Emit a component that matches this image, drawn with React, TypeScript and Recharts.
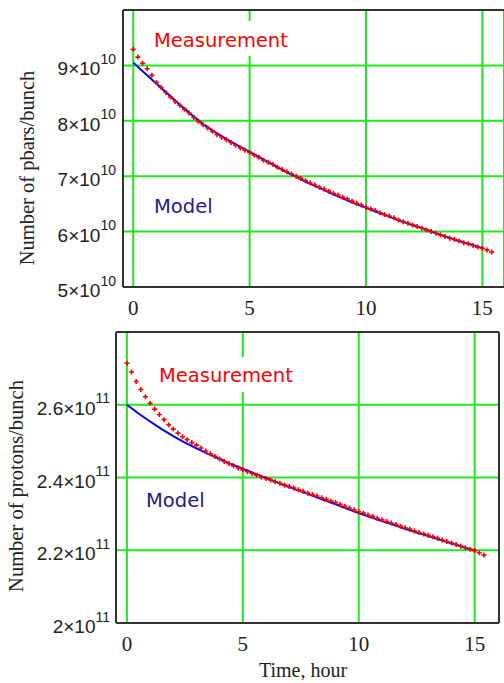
import React from 'react'
import {
  ComposedChart, Line, Scatter, XAxis, YAxis, CartesianGrid, ReferenceLine, Customized
} from 'recharts'

// hours of the measurement samples (one every 0.2 h)
const measTimes = [
  0, 0.2, 0.4, 0.6, 0.8, 1, 1.2, 1.4, 1.6, 1.8, 2, 2.2, 2.4, 2.6, 2.8, 3, 3.2, 3.4, 3.6, 3.8,
  4, 4.2, 4.4, 4.6, 4.8, 5, 5.2, 5.4, 5.6, 5.8, 6, 6.2, 6.4, 6.6, 6.8, 7, 7.2, 7.4, 7.6, 7.8,
  8, 8.2, 8.4, 8.6, 8.8, 9, 9.2, 9.4, 9.6, 9.8, 10, 10.2, 10.4, 10.6, 10.8, 11, 11.2, 11.4, 11.6, 11.8,
  12, 12.2, 12.4, 12.6, 12.8, 13, 13.2, 13.4, 13.6, 13.8, 14, 14.2, 14.4, 14.6, 14.8, 15, 15.2, 15.4,
]
// model evaluated every 0.5 h
const modelTimes = [
  0, 0.5, 1, 1.5, 2, 2.5, 3, 3.5, 4, 4.5, 5, 5.5, 6, 6.5, 7, 7.5, 8, 8.5, 9, 9.5,
  10, 10.5, 11, 11.5, 12, 12.5, 13, 13.5, 14, 14.5, 15,
]

// pbars per bunch, x1e10
const pbarMeasured = [
  9.29, 9.15, 9.04, 8.94, 8.82, 8.69, 8.60, 8.51, 8.43, 8.35, 8.28, 8.21, 8.14, 8.06, 7.99, 7.93, 7.87, 7.81, 7.75, 7.70,
  7.66, 7.61, 7.56, 7.51, 7.47, 7.43, 7.38, 7.34, 7.29, 7.25, 7.21, 7.16, 7.12, 7.08, 7.04, 7.00, 6.96, 6.92, 6.88, 6.84,
  6.80, 6.77, 6.73, 6.69, 6.66, 6.62, 6.59, 6.55, 6.51, 6.48, 6.44, 6.41, 6.38, 6.34, 6.31, 6.28, 6.25, 6.21, 6.18, 6.15,
  6.12, 6.09, 6.06, 6.03, 6.00, 5.97, 5.94, 5.91, 5.88, 5.86, 5.83, 5.80, 5.78, 5.75, 5.72, 5.70, 5.67, 5.63,
]
const pbarModel = [
  9.05, 8.86, 8.67, 8.48, 8.29, 8.11, 7.94, 7.80, 7.67, 7.55, 7.44, 7.32, 7.21, 7.09, 6.99, 6.88,
  6.79, 6.69, 6.60, 6.51, 6.43, 6.35, 6.27, 6.19, 6.12, 6.05, 5.97, 5.90, 5.83, 5.77, 5.70,
]

// protons per bunch, x1e11
const protonMeasured = [
  2.714, 2.690, 2.664, 2.642, 2.622, 2.604, 2.588, 2.573, 2.559, 2.545, 2.533, 2.522, 2.512, 2.504, 2.496, 2.489, 2.481, 2.473, 2.465, 2.458,
  2.451, 2.444, 2.438, 2.432, 2.426, 2.421, 2.416, 2.411, 2.406, 2.401, 2.397, 2.393, 2.388, 2.384, 2.379, 2.375, 2.371, 2.366, 2.362, 2.357,
  2.353, 2.349, 2.344, 2.340, 2.335, 2.331, 2.326, 2.321, 2.316, 2.311, 2.306, 2.302, 2.297, 2.293, 2.288, 2.284, 2.279, 2.275, 2.271, 2.266,
  2.262, 2.258, 2.253, 2.249, 2.245, 2.241, 2.237, 2.233, 2.228, 2.224, 2.220, 2.216, 2.211, 2.207, 2.203, 2.199, 2.193, 2.187,
]
const protonModel = [
  2.600, 2.576, 2.554, 2.533, 2.514, 2.496, 2.480, 2.465, 2.451, 2.437, 2.424, 2.411, 2.399, 2.386, 2.374, 2.362,
  2.350, 2.338, 2.326, 2.314, 2.302, 2.291, 2.280, 2.270, 2.259, 2.249, 2.239, 2.229, 2.219, 2.209, 2.199,
]

const xTicks = [0, 5, 10, 15]
const pbarTicks = [5, 6, 7, 8, 9]
const protonTicks = [2, 2.2, 2.4, 2.6]

const GRID = '#1ee81e'
const FRAME = '#333'
const SERIF = '"Liberation Serif", "Times New Roman", serif'
const SANS = '"DejaVu Sans", Verdana, sans-serif'

const Cross = ({ cx, cy }: any) => (
  <path d={`M${cx - 2.5},${cy}h5M${cx},${cy - 2.5}v5`} stroke="#ff0000" strokeWidth={1.6} />
)

const makeYTick = (exp: string, gap: number) => ({ x, y, payload }: any) => (
  <text x={x - gap} y={y + 10} textAnchor="end" fontFamily='"Liberation Sans", Arial, sans-serif' fontSize={19} fill="#222">
    <tspan>{String(payload.value)}×10</tspan>
    <tspan fontSize={14} dy={-11.5}>{exp}</tspan>
  </text>
)

const XTick = ({ x, y, payload }: any) => (
  <text x={x} y={y + 26} textAnchor="middle" fontFamily={SERIF} fontSize={21} fill="#222">
    {payload.value}
  </text>
)

interface PanelProps {
  meas: number[]
  model: number[]
  yDomain: [number, number]
  yTicks: number[]
  exp: string
  xDomain: [number, number]
  width: number
  height: number
  margin: { top: number; right: number; bottom: number; left: number }
  yAxisWidth: number
  xAxisHeight: number
  tickGap: number
  rightBorder?: boolean
  labels: { mx: number; my: number; dx: number; dy: number; box: number[] }
  yTitle: string
  yTitleAt: [number, number]
  xTitle?: string
}

function Panel(p: PanelProps) {
  const measRows = measTimes.map((t, i) => ({ t, v: p.meas[i] }))
  const modelRows = modelTimes.map((t, i) => ({ t, v: p.model[i] }))
  const L = p.labels
  return (
    <ComposedChart width={p.width} height={p.height} margin={p.margin}>
      <CartesianGrid stroke={GRID} strokeWidth={2} strokeOpacity={1} />
      <XAxis
        type="number" dataKey="t" domain={p.xDomain} ticks={xTicks} allowDataOverflow
        height={p.xAxisHeight} tickLine={false} tickSize={0} tick={<XTick />}
        axisLine={{ stroke: FRAME, strokeWidth: 2 }} interval={0}
      />
      <YAxis
        type="number" dataKey="v" domain={p.yDomain} ticks={p.yTicks} allowDataOverflow
        width={p.yAxisWidth} tickLine={false} tickSize={0} tick={makeYTick(p.exp, p.tickGap)}
        axisLine={{ stroke: FRAME, strokeWidth: 2 }} interval={0}
      />
      <ReferenceLine y={p.yDomain[1]} stroke={FRAME} strokeWidth={2} />
      {p.rightBorder && <ReferenceLine x={p.xDomain[1]} stroke={FRAME} strokeWidth={2} />}
      <Customized
        component={() => (
          <g>
            <rect x={L.box[0]} y={L.box[1]} width={L.box[2]} height={L.box[3]} fill="#fff" />
            <text x={L.mx} y={L.my} fontFamily={SANS} fontSize={19.5} fill="#ff0000">Measurement</text>
            <text x={L.dx} y={L.dy} fontFamily={SANS} fontSize={19.5} fill="#20208c">Model</text>
            <text
              x={p.yTitleAt[0]} y={p.yTitleAt[1]} textAnchor="middle" fontFamily={SERIF} fontSize={20.5} fill="#222"
              transform={`rotate(-90 ${p.yTitleAt[0]} ${p.yTitleAt[1]})`}
            >
              {p.yTitle}
            </text>
            {p.xTitle && (
              <text x={303} y={p.height - 6} textAnchor="middle" fontFamily={SERIF} fontSize={20} fill="#222">
                {p.xTitle}
              </text>
            )}
          </g>
        )}
      />
      <Scatter data={measRows} dataKey="v" shape={<Cross />} isAnimationActive={false} />
      <Line data={modelRows} dataKey="v" stroke="#0000ff" strokeWidth={2} dot={false} isAnimationActive={false} />
    </ComposedChart>
  )
}

export default function App() {
  return (
    <div style={{ position: 'fixed', left: 0, top: 0, width: 504, height: 683, background: '#fff', overflow: 'hidden' }}>
      <div style={{ position: 'absolute', left: 0, top: 0 }}>
        <Panel
          meas={pbarMeasured} model={pbarModel} yDomain={[5, 10]} yTicks={pbarTicks} exp="10"
          xDomain={[-0.44, 15.93]} width={504} height={330}
          margin={{ top: 10, right: 0, bottom: 13, left: 0 }} yAxisWidth={123} xAxisHeight={30} tickGap={5}
          labels={{ mx: 154, my: 47, dx: 154, dy: 213, box: [150, 21, 143, 35] }}
          yTitle="Number of pbars/bunch" yTitleAt={[34, 168]}
        />
      </div>
      <div style={{ position: 'absolute', left: 0, top: 330 }}>
        <Panel
          meas={protonMeasured} model={protonModel} yDomain={[2, 2.8]} yTicks={protonTicks} exp="11"
          xDomain={[-0.47, 16.05]} width={504} height={353}
          margin={{ top: 2, right: 5, bottom: 0, left: 0 }} yAxisWidth={116} xAxisHeight={60} tickGap={4}
          rightBorder
          labels={{ mx: 159, my: 52, dx: 146, dy: 177, box: [155, 27, 143, 35] }}
          yTitle="Number of protons/bunch" yTitleAt={[23, 156]} xTitle="Time, hour"
        />
      </div>
    </div>
  )
}
